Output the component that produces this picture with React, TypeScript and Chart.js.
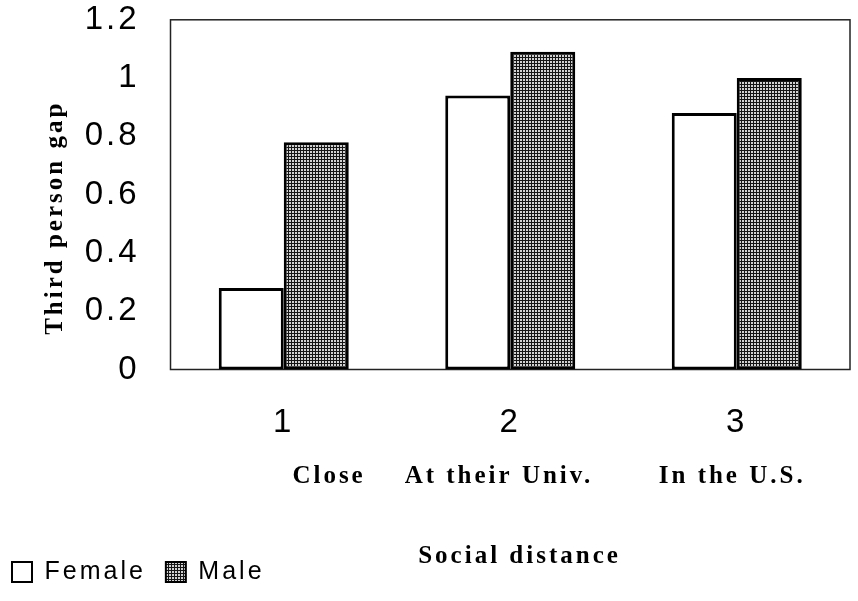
import React, { useEffect, useRef } from "react";
import { Chart, registerables } from "chart.js";

Chart.register(...registerables);

const categories = ["1", "2", "3"];
const subLabels = ["Close", "At their Univ.", "In the U.S."];
const femaleValues = [0.28, 0.94, 0.88];
const maleValues = [0.78, 1.09, 1.0];
const yTickValues = [0, 0.2, 0.4, 0.6, 0.8, 1.0, 1.2];
const seriesNames = ["Female", "Male"];
const yTitle = "Third person gap";
const xTitle = "Social distance";

const SANS = "'Liberation Sans', Arial, sans-serif";
const SERIF = "'Liberation Serif', 'Times New Roman', serif";

export default function App() {
  const ref = useRef<HTMLCanvasElement | null>(null);

  useEffect(() => {
    document.body.style.margin = "0";
    const canvas = ref.current!;
    const ctx = canvas.getContext("2d")!;

    const pc = document.createElement("canvas");
    pc.width = 3;
    pc.height = 3;
    const g = pc.getContext("2d")!;
    g.fillStyle = "#d2d2d2";
    g.fillRect(0, 0, 3, 3);
    g.fillStyle = "#151515";
    g.fillRect(0, 0, 3, 1);
    g.fillRect(0, 0, 1, 3);
    const pattern = ctx.createPattern(pc, "repeat")!;

    const subShift = [0.2, -0.05, -0.02];

    const spacing = {
      id: "spacing",
      beforeUpdate(chart: any) {
        chart.ctx.letterSpacing = "3px";
      },
      beforeDraw(chart: any) {
        chart.ctx.letterSpacing = "3px";
      },
    };

    const frame = {
      id: "frame",
      beforeDatasetsDraw(chart: any) {
        const { ctx: c, chartArea: a } = chart;
        c.save();
        c.strokeStyle = "#222";
        c.lineWidth = 1.5;
        c.strokeRect(a.left, a.top, a.right - a.left, a.bottom - a.top);
        c.restore();
      },
    };

    const chart = new Chart(ctx, {
      type: "bar",
      data: {
        labels: categories,
        datasets: [
          {
            label: seriesNames[0],
            data: femaleValues,
            backgroundColor: "#ffffff",
            borderColor: "#000000",
            borderWidth: 3,
            borderSkipped: false,
            xAxisID: "x",
          },
          {
            label: seriesNames[1],
            data: maleValues,
            backgroundColor: pattern as any,
            borderColor: "#000000",
            borderWidth: 3,
            borderSkipped: false,
            xAxisID: "x",
          },
        ],
      },
      options: {
        responsive: false,
        animation: false,
        layout: { padding: { left: -8, right: 8, top: 19, bottom: 6.5 } },
        datasets: {
          bar: { categoryPercentage: 0.574, barPercentage: 1.0 },
        },
        plugins: {
          tooltip: { enabled: false },
          legend: {
            position: "bottom",
            align: "start",
            labels: {
              boxWidth: 20,
              boxHeight: 20,
              padding: 20,
              color: "#000",
              font: { family: SANS, size: 25 },
              generateLabels(ch: any) {
                const items = Chart.defaults.plugins.legend.labels.generateLabels(ch);
                items.forEach((it: any) => (it.lineWidth = 2));
                return items;
              },
            },
          },
        },
        scales: {
          x: {
            type: "category",
            position: "bottom",
            weight: 0,
            grid: { display: false, drawTicks: false },
            border: { display: false },
            ticks: {
              color: "#000",
              font: { family: SANS, size: 33 },
              padding: 34,
              maxRotation: 0,
            },
            afterFit(scale: any) {
              scale.height = 74;
            },
          },
          x2: {
            type: "linear",
            position: "bottom",
            weight: 1,
            offset: false,
            bounds: "data",
            min: -0.5,
            max: 2.5,
            grid: { display: false, drawTicks: false, offset: false },
            border: { display: false },
            afterBuildTicks(scale: any) {
              scale.ticks = subLabels.map((_, i) => ({ value: i + subShift[i] }));
            },
            ticks: {
              autoSkip: false,
              maxRotation: 0,
              color: "#000",
              padding: 18,
              font: { family: SERIF, size: 25, weight: "bold" },
              callback: (_v: any, i: number) => subLabels[i],
            },
            title: {
              display: true,
              text: "  " + xTitle,
              color: "#000",
              font: { family: SERIF, size: 25, weight: "bold" },
              padding: { top: 0, bottom: -32 },
            },
            afterFit(scale: any) {
              scale.height = 96;
            },
          },
          y: {
            type: "linear",
            min: 0,
            max: 1.2,
            grid: { display: false, drawTicks: true, tickLength: 31 },
            border: { display: false },
            afterBuildTicks(scale: any) {
              scale.ticks = yTickValues.map((v) => ({ value: v }));
            },
            ticks: {
              color: "#000",
              font: { family: SANS, size: 33 },
              padding: 0,
              callback: (v: any) => parseFloat(Number(v).toFixed(1)).toString(),
            },
            title: {
              display: true,
              text: yTitle + "     ",
              color: "#000",
              font: { family: SERIF, size: 25, weight: "bold" },
              padding: { top: 49, bottom: 0 },
            },
            afterFit(scale: any) {
              scale.width = 178.5;
            },
          },
        },
      } as any,
      plugins: [spacing, frame],
    });

    return () => chart.destroy();
  }, []);

  return (
    <div style={{ width: 858, height: 601 }}>
      <canvas ref={ref} width={858} height={601} style={{ display: "block" }} />
    </div>
  );
}
